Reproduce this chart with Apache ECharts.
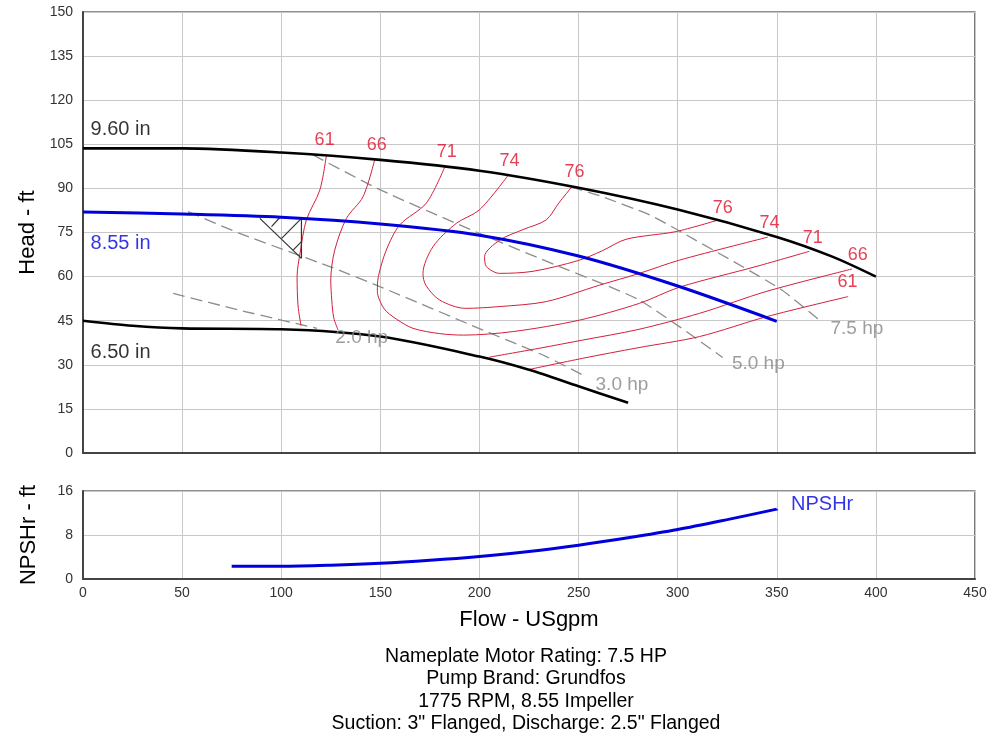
<!DOCTYPE html>
<html><head><meta charset="utf-8">
<script src="https://cdn.jsdelivr.net/npm/echarts@6/dist/echarts.min.js"></script>
<style>html,body{margin:0;padding:0;background:#fff}#c{width:992px;height:739px}</style>
</head><body><div id="c"></div>
<script>
// ---- axis ranges / ticks
const flowRange = [0, 450, 50];
const headRange = [0, 150, 15];
const npshRange = [0, 16, 8];

// ---- impeller curves [flow, head]
const imp960 = [[0,103.6],[50,103.6],[100,102.2],[150,99.7],[200,96.0],[250,90.2],[300,82.8],[350,73.5],[378,66.8],[400,60]];
const imp855 = [[0,82],[50,81.3],[100,80.2],[150,77.9],[200,74.1],[250,67],[300,56.8],[350,44.8]];
const imp650 = [[0,45],[25,43.3],[50,42.4],[100,42.1],[150,39.6],[200,32.8],[225,28.3],[250,22.7],[275,17.1]];

// ---- efficiency contours [flow, head]
const eff61L = [[122.8,101.3],[119.5,89.5],[112.7,79.3],[109.5,68],[108,60],[108.5,50],[110,43.3]];
const eff61R = [[225,28.4],[252,32.2],[280,35.8],[311,39.6],[345,46.4],[386,53.2]];
const eff66L = [[147.2,99.9],[141.3,87.2],[132.9,79.8],[127,69],[125,58.8],[125.5,52],[126.5,46],[128.7,41.8]];
const eff66R = [[205,32.6],[230,35.6],[252,38.4],[280,42],[311,47.5],[345,55],[388,62.6]];
const eff71 = [[182.5,97.3],[173.2,85],[159.8,77.6],[153,69],[149,60],[148.5,55],[152,49],[158,45.6],[166.5,42.4],[180,40.6],[192,40.1],[217,41.3],[250.5,45.2],[280.7,50.9],[300.9,56.4],[340,63.5],[366.4,68.6]];
const eff74 = [[214.4,94.4],[200,82.7],[188.3,78.1],[176.6,70.2],[171.5,61],[173,57],[180,52],[193,49.2],[210,49.8],[233.7,51.5],[260.6,57.1],[280.7,61.1],[300.9,65.6],[345.4,73.4]];
const eff76 = [[246.3,90.3],[240,85],[233.7,79.3],[222,76],[210.2,72.4],[202.6,66.8],[203.5,63.4],[210.2,61.1],[227,61.8],[250,65.5],[262,68.8],[274,72.7],[299,75.3],[320.2,79.2]];

// ---- horsepower lines [flow, head]
const hp20 = [[45.5,54.3],[80,48.4],[118,42.4]];
const hp30 = [[53,82.1],[79,74.7],[124.5,63.4],[149.7,56.6],[201.8,41.8],[233.7,32.8],[252.2,26.5]];
const hp50 = [[116,101.4],[150,89.5],[200,74.7],[240.4,63.4],[280.7,52],[322.7,32.5]];
const hp75 = [[246,90.5],[260.6,87.5],[285.8,81],[300.9,75.5],[351.3,56],[371.5,45.2]];

// ---- hatched (min flow) region segments
const hatch = [
  [[89.2,79.8],[110.2,66.2]],
  [[110.2,79.8],[110.2,66.2]],
  [[95.1,77],[99.3,80.1]],
  [[100.2,73],[110.2,79.8]],
  [[106,69],[110.2,71.9]]
];

// ---- NPSHr [flow, ft]
const npshr = [[75,2.3],[100,2.3],[125,2.5],[150,2.85],[175,3.4],[200,4.1],[225,5.0],[250,6.15],[275,7.5],[300,9.0],[325,10.8],[350,12.7]];

// ---- labels [text, flow, head]
const effLabels = [['61',121.9,106.5],['66',148.2,104.8],['71',183.5,102.4],['74',215.2,99.3],['76',248,95.6],
  ['76',322.7,83.2],['74',346.3,78.1],['71',368.1,73],['66',390.8,67.3],['61',385.7,58.3]];
const hpLabels = [['2.0 hp',140.6,39.1],['3.0 hp',271.9,23.3],['5.0 hp',340.7,30.3],['7.5 hp',390.4,42.2]];
const impLabels = [['9.60 in',3.8,110.1,'#000'],['8.55 in',3.8,71.4,'#0000dd'],['6.50 in',3.8,34.2,'#000']];
const npshLabel = ['NPSHr',357.2,13.6];
const footer = ['Nameplate Motor Rating: 7.5 HP','Pump Brand: Grundfos','1775 RPM, 8.55 Impeller','Suction: 3" Flanged, Discharge: 2.5" Flanged'];

const FONT = '"Liberation Sans", Arial, sans-serif';
const RED = '#d41f3c';
const series = [];
function line(data, color, width, opts) {
  series.push(Object.assign({type:'line', data, symbol:'none', silent:true,
    lineStyle:{color, width}, xAxisIndex:0, yAxisIndex:0, animation:false}, opts||{}));
}
[eff61L, eff61R, eff66L, eff66R, eff71, eff74, eff76].forEach(d => line(d, RED, 1, {smooth:0.3, z:3}));
[hp20, hp30, hp50, hp75].forEach(d => line(d, '#8c8c8c', 1.3, {smooth:0.2, z:2, lineStyle:{color:'#8c8c8c', width:1.3, type:[12,6]}}));
hatch.forEach(d => line(d, '#333', 1.2, {z:4}));
line(imp960, '#000', 2.6, {smooth:0.3, z:5});
line(imp650, '#000', 2.6, {smooth:0.3, z:5});
line(imp855, '#0000dd', 3, {smooth:0.3, z:6});
line(npshr, '#0000dd', 3, {smooth:0.3, xAxisIndex:1, yAxisIndex:1, z:6});

function labels(arr, color, size, align, xi, yi) {
  series.push({type:'scatter', xAxisIndex:xi||0, yAxisIndex:yi||0, symbolSize:0, silent:true, animation:false, z:10,
    data: arr.map(a => ({value:[a[1],a[2]], name:a[0], label:{color:a[3]||color}})),
    label:{show:true, position:'inside', formatter:'{b}', color, fontSize:size, fontFamily:FONT, align, verticalAlign:'middle'}});
}
labels(effLabels, '#e0102c', 18, 'center');
labels(hpLabels, '#858585', 19, 'center');
labels(impLabels, '#000', 20, 'left');
labels([npshLabel], '#0000dd', 20, 'left', 1, 1);

const axisLabel = {color:'#333', fontSize:14, fontFamily:FONT};
const split = {show:true, lineStyle:{color:'#c8c8c8', width:1}};
const nameStyle = {color:'#000', fontSize:22, fontFamily:FONT};
const option = {
  backgroundColor:'#fff',
  animation:false,
  grid:[
    {left:83, right:17, top:12, height:441, show:true, borderColor:'#222', borderWidth:1.2, backgroundColor:'transparent'},
    {left:83, right:17, top:491, height:88, show:true, borderColor:'#222', borderWidth:1.2, backgroundColor:'transparent'}
  ],
  xAxis:[
    {type:'value', gridIndex:0, min:flowRange[0], max:flowRange[1], interval:flowRange[2],
      axisLabel:{show:false}, axisTick:{show:false}, axisLine:{show:true, lineStyle:{color:'#444', width:2}}, splitLine:split},
    {type:'value', gridIndex:1, min:flowRange[0], max:flowRange[1], interval:flowRange[2],
      axisLabel:Object.assign({margin:7}, axisLabel), axisTick:{show:false}, axisLine:{show:true, lineStyle:{color:'#444', width:2}}, splitLine:split,
      name:'Flow - USgpm', nameLocation:'middle', nameGap:30, nameTextStyle:nameStyle}
  ],
  yAxis:[
    {type:'value', gridIndex:0, min:headRange[0], max:headRange[1], interval:headRange[2],
      axisLabel:Object.assign({margin:10}, axisLabel), axisTick:{show:false}, axisLine:{show:true, lineStyle:{color:'#444', width:2}}, splitLine:split,
      name:'Head - ft', nameLocation:'middle', nameGap:43, nameTextStyle:nameStyle},
    {type:'value', gridIndex:1, min:npshRange[0], max:npshRange[1], interval:npshRange[2],
      axisLabel:Object.assign({margin:10}, axisLabel), axisTick:{show:false}, axisLine:{show:true, lineStyle:{color:'#444', width:2}}, splitLine:split,
      name:'NPSHr - ft', nameLocation:'middle', nameGap:43, nameTextStyle:nameStyle}
  ],
  graphic:[{type:'text', x:526, y:645, style:{text:footer.join('\n'), font:'19.5px ' + FONT, fill:'#000', textAlign:'center', lineHeight:22.5}}],
  series
};
const chart = echarts.init(document.getElementById('c'), null, {renderer:'canvas'});
chart.setOption(option);
</script></body></html>
